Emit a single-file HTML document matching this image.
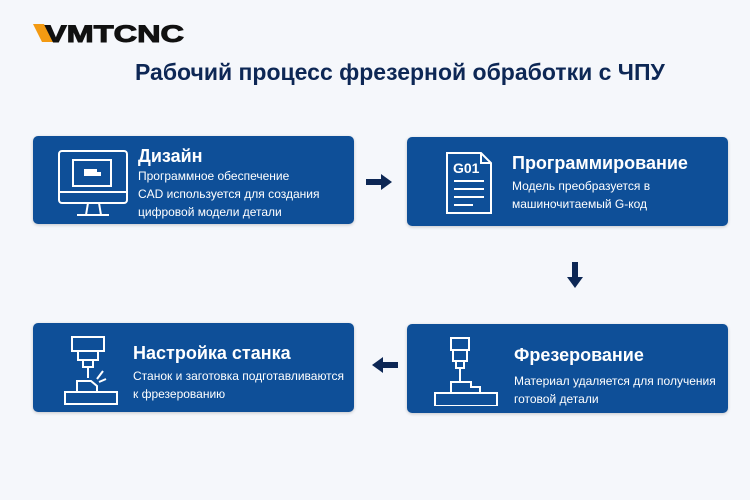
<!DOCTYPE html>
<html><head><meta charset="utf-8"><style>
body{margin:0;width:750px;height:500px;background:#f5f7fb;font-family:"Liberation Sans",sans-serif;position:relative;overflow:hidden}
.box{position:absolute;background:#0e4f98;border-radius:5px;color:#fff;box-shadow:0 1px 3px rgba(0,0,0,.2)}
.t{position:absolute;font-weight:bold;font-size:18px;white-space:nowrap}
.d{position:absolute;font-size:12px;line-height:18px;white-space:nowrap}
svg{position:absolute}
</style></head><body>
<svg style="left:33px;top:20px" width="160" height="26">
<polygon points="0,4 11,4 20,22 9,22" fill="#f39a12"/>
<text x="12" y="22" font-family="Liberation Sans" font-weight="bold" font-size="24" fill="#111" stroke="#111" stroke-width="1" textLength="139" lengthAdjust="spacingAndGlyphs">VMTCNC</text>
</svg>
<div style="position:absolute;left:135px;top:59px;font-size:23px;font-weight:bold;color:#0d2755;white-space:nowrap">Рабочий процесс фрезерной обработки с ЧПУ</div>

<div class="box" style="left:33px;top:136px;width:321px;height:88px">
<svg style="left:24px;top:12px" width="72" height="72" fill="none" stroke="#fff" stroke-width="2">
<rect x="2" y="3" width="68" height="52" rx="3"/><line x1="2" y1="44" x2="70" y2="44"/>
<rect x="16" y="12" width="38" height="26"/><rect x="27" y="21" width="13" height="7" fill="#fff" stroke="none"/><rect x="40" y="24" width="4" height="4" fill="#fff" stroke="none"/>
<line x1="31" y1="55" x2="29" y2="67"/><line x1="42" y1="55" x2="44" y2="67"/><line x1="20" y1="67" x2="52" y2="67"/>
</svg>
<div class="t" style="left:105px;top:10px">Дизайн</div>
<div class="d" style="left:105px;top:31px">Программное обеспечение<br>CAD используется для создания<br>цифровой модели детали</div>
</div>

<div class="box" style="left:407px;top:137px;width:321px;height:89px">
<svg style="left:38px;top:14px" width="52" height="64" fill="none" stroke="#fff" stroke-width="2">
<path d="M2,2 H36 L46,12 V62 H2 Z"/><path d="M36,2 V12 H46"/>
<line x1="9" y1="30" x2="39" y2="30"/><line x1="9" y1="38" x2="39" y2="38"/><line x1="9" y1="46" x2="39" y2="46"/><line x1="9" y1="54" x2="28" y2="54"/>
<text x="8" y="22" font-family="Liberation Sans" font-weight="bold" font-size="14" fill="#fff" stroke="none">G01</text>
</svg>
<div class="t" style="left:105px;top:16px">Программирование</div>
<div class="d" style="left:105px;top:40px">Модель преобразуется в<br>машиночитаемый G-код</div>
</div>

<div class="box" style="left:33px;top:323px;width:321px;height:89px">
<svg style="left:10px;top:10px" width="80" height="72" fill="none" stroke="#fff" stroke-width="2">
<rect x="29" y="4" width="32" height="14"/><rect x="35" y="18" width="20" height="9"/><rect x="40" y="27" width="10" height="7"/><line x1="45" y1="34" x2="45" y2="45"/>
<line x1="60" y1="38" x2="54" y2="46"/><line x1="63" y1="46" x2="56" y2="49"/>
<path d="M34,59 V48 H48 L54,53 V59"/><rect x="22" y="59" width="52" height="12"/>
</svg>
<div class="t" style="left:100px;top:20px">Настройка станка</div>
<div class="d" style="left:100px;top:44px">Станок и заготовка подготавливаются<br>к фрезерованию</div>
</div>

<div class="box" style="left:407px;top:324px;width:321px;height:89px">
<svg style="left:20px;top:10px" width="80" height="72" fill="none" stroke="#fff" stroke-width="2">
<rect x="24" y="4" width="18" height="12"/><rect x="26" y="16" width="14" height="11"/><rect x="29" y="27" width="8" height="7"/><line x1="33" y1="34" x2="33" y2="47"/>
<path d="M24,59 V48 H44 V53 H53 V59"/><rect x="8" y="59" width="62" height="13"/>
</svg>
<div class="t" style="left:107px;top:21px">Фрезерование</div>
<div class="d" style="left:107px;top:48px">Материал удаляется для получения<br>готовой детали</div>
</div>

<svg style="left:366px;top:173px" width="28" height="18"><rect x="0" y="6" width="16" height="6" fill="#0d2755"/><polygon points="15,1 26,9 15,17" fill="#0d2755"/></svg>
<svg style="left:566px;top:262px" width="18" height="28"><rect x="6" y="0" width="6" height="16" fill="#0d2755"/><polygon points="1,15 17,15 9,26" fill="#0d2755"/></svg>
<svg style="left:370px;top:356px" width="28" height="18"><rect x="12" y="6" width="16" height="6" fill="#0d2755"/><polygon points="13,1 2,9 13,17" fill="#0d2755"/></svg>
</body></html>
